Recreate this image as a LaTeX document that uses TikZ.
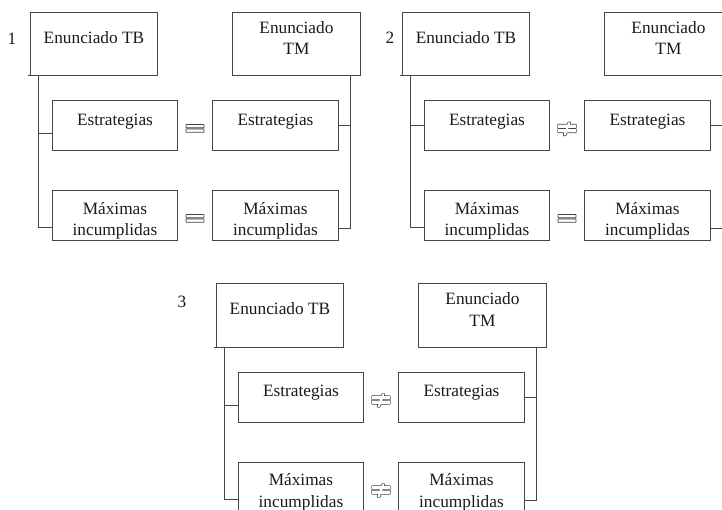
\documentclass[tikz,border=0pt]{standalone}
\usepackage{fontspec}
\setmainfont{Liberation Serif}
\usetikzlibrary{calc}
\definecolor{linec}{HTML}{454545}
\definecolor{txtc}{HTML}{1A1A1A}
\tikzset{
  box/.style={draw=linec, line width=0.9pt, inner sep=0pt, anchor=north west},
  lbl/.style={font=\fontsize{17.3}{21.5}\selectfont, align=center, inner sep=0pt, anchor=north, text=txtc},
  num/.style={font=\fontsize{17.3}{19}\selectfont, inner sep=0pt, anchor=base, text=txtc},
  conn/.style={draw=linec, line width=0.9pt},
  sym/.style={draw=linec, line width=0.7pt, rounded corners=0.4pt},
  eqs/.pic={\draw[sym] (-9,-3.9) rectangle (9,-0.6) (-9,0.6) rectangle (9,3.9);},
  neqs/.pic={
    \path[draw=linec, line width=1.4pt, rounded corners=0.4pt]
      (-9,-3.9) rectangle (9,-0.6) (-9,0.6) rectangle (9,3.9)
      (-3.5,7) -- (-1.2,7) -- (3.5,-6) -- (1.2,-6) -- cycle;
    \path[fill=white, rounded corners=0.4pt]
      (-9,-3.9) rectangle (9,-0.6) (-9,0.6) rectangle (9,3.9)
      (-3.5,7) -- (-1.2,7) -- (3.5,-6) -- (1.2,-6) -- cycle;}
}
\newcommand\drawpanel[8]{%
  \node[num] (#1n) at (#5) {#4};
  \node[box, minimum width=127pt, minimum height=63pt] (#1tb) at (30+#2,12+#3) {};
  \node[lbl] (#1tbt) at ([yshift=-14.5pt]#1tb.north) {\rule{0pt}{16.5pt}Enunciado TB};
  \node[box, minimum width=128pt, minimum height=63pt] (#1tm) at (232+#2,12+#3) {};
  \node[lbl] (#1tmt) at ([yshift=-4.5pt]#1tm.north) {\rule{0pt}{16.5pt}Enunciado\\TM};
  \node[box, minimum width=125pt, minimum height=50pt] (#1el) at (52+#2,100+#3) {};
  \node[lbl] (#1elt) at ([yshift=-8.5pt]#1el.north) {\rule{0pt}{16.5pt}Estrategias};
  \node[box, minimum width=126pt, minimum height=50pt] (#1er) at (212+#2,100+#3) {};
  \node[lbl] (#1ert) at ([yshift=-8.5pt]#1er.north) {\rule{0pt}{16.5pt}Estrategias};
  \node[box, minimum width=125pt, minimum height=50pt] (#1ml) at (52+#2,190+#3) {};
  \node[lbl] (#1mlt) at ([yshift=-7.5pt]#1ml.north) {\rule{0pt}{16.5pt}Máximas\\incumplidas};
  \node[box, minimum width=126pt, minimum height=50pt] (#1mr) at (212+#2,190+#3) {};
  \node[lbl] (#1mrt) at ([yshift=-7.5pt]#1mr.north) {\rule{0pt}{16.5pt}Máximas\\incumplidas};
  \draw[conn] ([xshift=-2pt]#1tb.south west) -- (#1tb.south west);
  \draw[conn] ([xshift=8pt]#1tb.south west) |- ([yshift=-#8]#1el.west);
  \draw[conn] ([xshift=8pt]#1tb.south west) |- ([yshift=-12pt]#1ml.west);
  \draw[conn] ([xshift=-10pt]#1tm.south east) |- (#1er.east);
  \draw[conn] ([xshift=-10pt]#1tm.south east) |- ([yshift=-13pt]#1mr.east);
  \coordinate (#1s1) at ($(#1el.east)!0.5!(#1er.west)$);
  \coordinate (#1s2) at ($(#1ml.east)!0.5!(#1mr.west)$);
  \pic at ([yshift=-3pt]#1s1) {#6};
  \pic at ([yshift=-3pt]#1s2) {#7};
}
\begin{document}
\begin{tikzpicture}[x=1pt, y=-1pt]
  \fill[white] (0,0) rectangle (722,510);
  \useasboundingbox (0,0) rectangle (722,510);
  \drawpanel{a}{0}{0}{1}{12,45}{eqs}{eqs}{8pt}
  \drawpanel{b}{372}{0}{2}{390,44}{neqs}{eqs}{0pt}
  \drawpanel{c}{186}{271.5}{3}{182,308}{neqs}{neqs}{8pt}
\end{tikzpicture}
\end{document}
